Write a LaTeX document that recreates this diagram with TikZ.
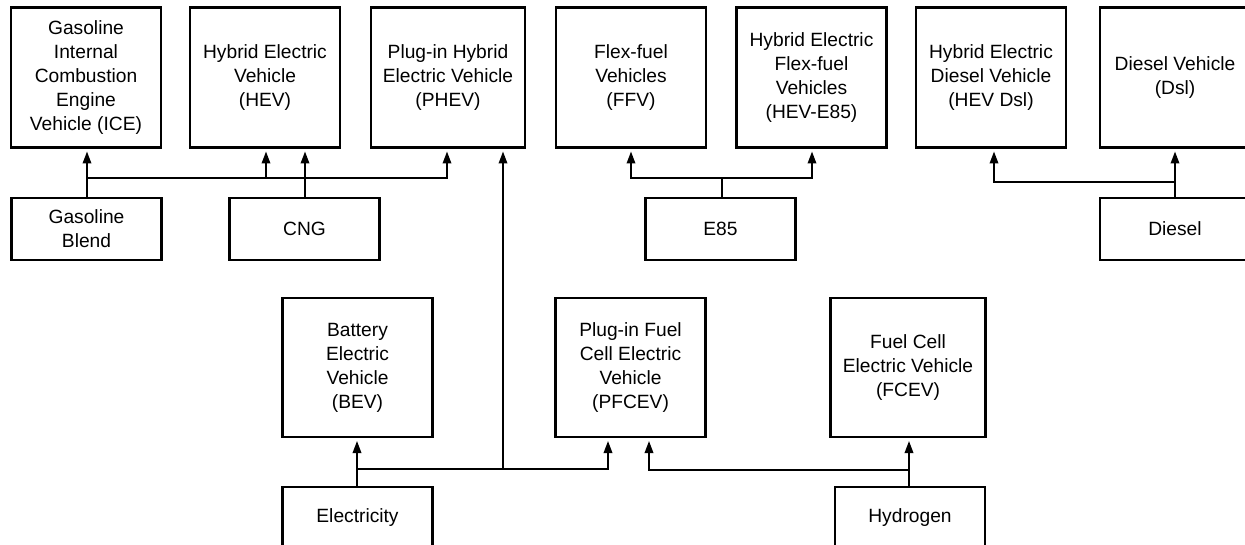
\documentclass[tikz,border=0pt]{standalone}
\usepackage{fontspec}
\setmainfont{Liberation Sans}
\usetikzlibrary{arrows.meta}
\tikzset{
  vbox/.style={draw=black, line width=2.2pt, align=center, inner sep=0pt, outer sep=0pt,
    minimum width=150pt, font=\fontsize{19.2pt}{24pt}\selectfont},
  tall/.style={vbox, minimum height=140pt},
  short/.style={vbox, minimum height=62pt},
  conn/.style={line width=1.8pt, draw=black},
  arr/.style={conn, -{Triangle[length=12pt,width=8.5pt]}, shorten >=4pt},
}
\begin{document}
\begin{tikzpicture}[x=1pt,y=-1pt]
\useasboundingbox (0,0) rectangle (1245,545);
\clip (0,0) rectangle (1245,545);
% top row vehicles
\node[tall] (ice) at (86,77.5) {Gasoline\\Internal\\Combustion\\Engine\\Vehicle (ICE)};
\node[tall] (hev) at (265,77.5) {Hybrid Electric\\Vehicle\\(HEV)};
\node[tall, minimum width=154pt] (phev) at (448,77.5) {Plug-in Hybrid\\Electric Vehicle\\(PHEV)};
\node[tall] (ffv) at (631,77.5) {Flex-fuel\\Vehicles\\(FFV)};
\node[tall] (hevefe) at (811.5,77.5) {Hybrid Electric\\Flex-fuel\\Vehicles\\(HEV-E85)};
\node[tall] (hevdsl) at (991,77.5) {Hybrid Electric\\Diesel Vehicle\\(HEV Dsl)};
\node[tall] (dsl) at (1175,77.5) {Diesel Vehicle\\(Dsl)};
% fuels, first row
\node[short] (gb) at (86.5,229) {Gasoline\\Blend};
\node[short] (cng) at (304.5,229) {CNG};
\node[short] (efe) at (720.5,229) {E85};
\node[short] (diesel) at (1175,229) {Diesel};
% bottom row vehicles
\node[tall, minimum height=139pt] (bev) at (357.5,367.5) {Battery\\Electric\\Vehicle\\(BEV)};
\node[tall, minimum height=139pt] (pfcev) at (630.5,367.5) {Plug-in Fuel\\Cell Electric\\Vehicle\\(PFCEV)};
\node[tall, minimum height=139pt, minimum width=155pt] (fcev) at (908,367.5) {Fuel Cell\\Electric Vehicle\\(FCEV)};
% fuels, bottom row
\node[short] (elec) at (357.5,518) {Electricity};
\node[short] (hyd) at (910,518) {Hydrogen};

% levels
\coordinate (ya) at (0,178);
\coordinate (yb) at (0,182);
\coordinate (yc) at (0,469);
\coordinate (yd) at (0,470);

% gasoline blend
\coordinate (gbtop) at ([xshift=0.5pt]gb.north);
\draw[conn] (gbtop) -- (gbtop |- ya) coordinate (j1);
\draw[arr] (j1) -- (j1 |- ice.south);
\coordinate (hevA) at ([xshift=1pt]hev.south);
\draw[arr] (hevA |- ya) -- (hevA);
\coordinate (phevA) at ([xshift=-1pt]phev.south);
\draw[arr] (j1) -| (phevA);
% CNG
\coordinate (cngtop) at ([xshift=0.5pt]cng.north);
\draw[arr] (cngtop) -- (cngtop |- hev.south);
% E85
\coordinate (efetop) at ([xshift=1.5pt]efe.north);
\draw[conn] (efetop) -- (efetop |- ya) coordinate (j3);
\draw[arr] (j3) -| (ffv.south);
\draw[arr] (j3) -| ([xshift=0.5pt]hevefe.south);
% Diesel
\draw[arr] (diesel.north) -- (dsl.south);
\draw[arr] (diesel.north |- yb) -| ([xshift=3pt]hevdsl.south);
% Electricity
\coordinate (eltop) at ([xshift=-0.5pt]elec.north);
\draw[conn] (eltop) -- (eltop |- yc) coordinate (j5);
\draw[arr] (j5) -- (j5 |- bev.south);
\draw[arr] (j5) -| ([xshift=-22.5pt]pfcev.south);
\coordinate (phevB) at ([xshift=55pt]phev.south);
\draw[arr] (phevB |- yc) -- (phevB);
% Hydrogen
\coordinate (hytop) at ([xshift=-1pt]hyd.north);
\draw[conn] (hytop) -- (hytop |- yd) coordinate (j6);
\draw[arr] (j6) -- (j6 |- fcev.south);
\draw[arr] (j6) -| ([xshift=18.5pt]pfcev.south);
\end{tikzpicture}
\end{document}
